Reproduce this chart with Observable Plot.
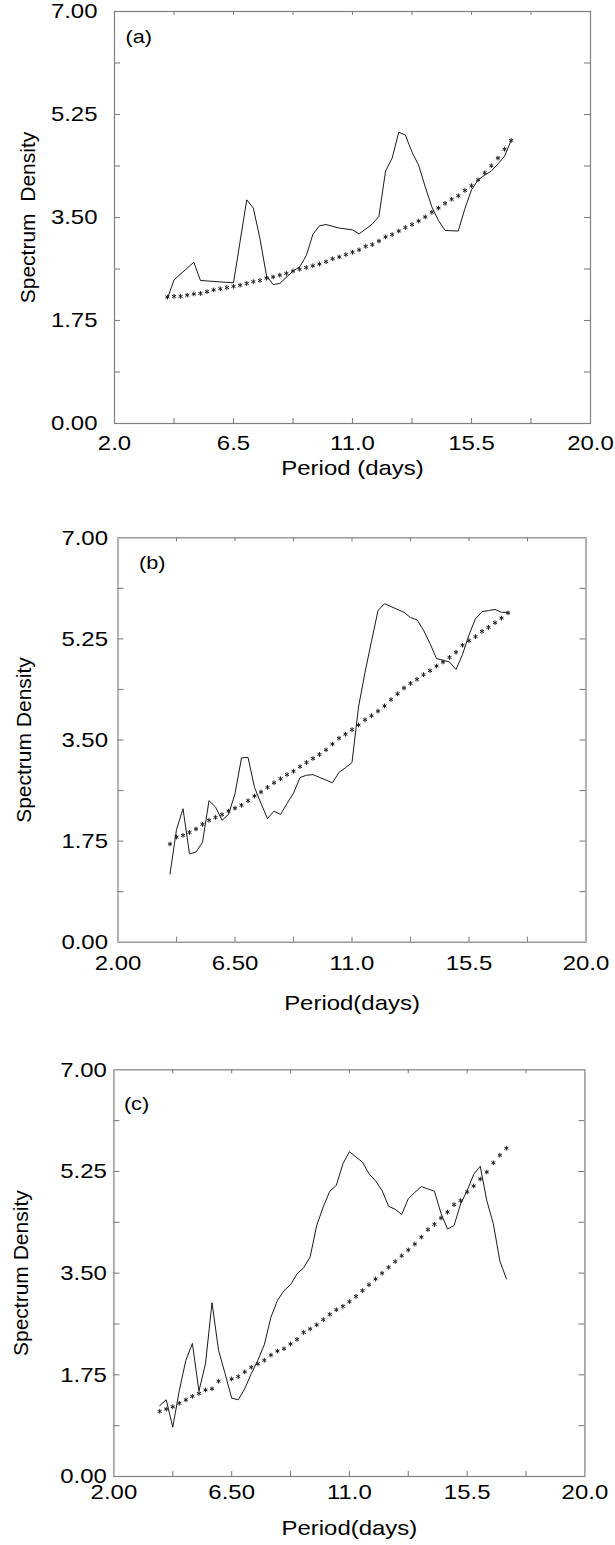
<!DOCTYPE html>
<html>
<head>
<meta charset="utf-8">
<script src="https://cdn.jsdelivr.net/npm/d3@7"></script>
<script src="https://cdn.jsdelivr.net/npm/@observablehq/plot@0.6"></script>
<style>
  html, body { margin: 0; padding: 0; background: #fff; }
  #root { position: relative; width: 615px; height: 1545px; background: #fff; overflow: hidden; }
  .panel { position: absolute; left: 0; }
</style>
</head>
<body>
<div id="root"></div>
<script>
// ---------- shared axis data ----------
const xTickLabelValues = [2, 6.5, 11, 15.5, 20];
const xTickLabelsA = ["2.0", "6.5", "11.0", "15.5", "20.0"];
const xTickLabelsBC = ["2.00", "6.50", "11.0", "15.5", "20.0"];
const yTickLabelValues = [0, 1.75, 3.5, 5.25, 7];
const yTickLabels = ["0.00", "1.75", "3.50", "5.25", "7.00"];
const xMinorTicks = [4.25, 6.5, 8.75, 11, 13.25, 15.5, 17.75];
const yMinorTicks = [0.875, 1.75, 2.625, 3.5, 4.375, 5.25, 6.125];

// ---------- panel (a) ----------
const bgPeriodA = [4.00,4.25,4.50,4.75,5.00,5.25,5.50,5.75,6.00,6.25,6.50,6.75,7.00,7.25,7.50,7.75,8.00,8.25,8.50,8.75,9.00,9.25,9.50,9.75,10.00,10.25,10.50,10.75,11.00,11.25,11.50,11.75,12.00,12.25,12.50,12.75,13.00,13.25,13.50,13.75,14.00,14.25,14.50,14.75,15.00,15.25,15.50,15.75,16.00,16.25,16.50,16.75,17.00];
const bgDensityA = [2.15,2.16,2.16,2.18,2.20,2.21,2.24,2.27,2.29,2.31,2.33,2.35,2.38,2.41,2.43,2.47,2.49,2.52,2.55,2.59,2.62,2.65,2.68,2.71,2.75,2.80,2.83,2.87,2.91,2.95,3.01,3.04,3.10,3.17,3.21,3.27,3.33,3.38,3.44,3.51,3.59,3.66,3.74,3.81,3.87,3.96,4.04,4.14,4.26,4.38,4.51,4.66,4.81];
const periodA = [4.0,4.25,5.0,5.25,6.5,7.0,7.25,7.5,7.75,8.0,8.25,8.75,9.0,9.25,9.5,9.75,10.0,10.5,11.0,11.25,11.75,12.0,12.25,12.5,12.75,13.0,13.25,13.5,13.75,14.0,14.25,14.5,15.0,15.25,15.5,15.75,16.0,16.25,16.5,16.75,17.0];
const densityA = [2.12,2.44,2.74,2.43,2.39,3.80,3.66,3.14,2.51,2.36,2.38,2.59,2.66,2.85,3.21,3.36,3.38,3.32,3.29,3.22,3.39,3.52,4.29,4.51,4.95,4.90,4.61,4.39,4.02,3.68,3.45,3.28,3.27,3.65,3.97,4.14,4.22,4.29,4.41,4.54,4.81];

// ---------- panel (b) ----------
const bgPeriodB = [4.00,4.25,4.50,4.75,5.00,5.25,5.50,5.75,6.00,6.25,6.50,6.75,7.00,7.25,7.50,7.75,8.00,8.25,8.50,8.75,9.00,9.25,9.50,9.75,10.00,10.25,10.50,10.75,11.00,11.25,11.50,11.75,12.00,12.25,12.50,12.75,13.00,13.25,13.50,13.75,14.00,14.25,14.50,14.75,15.00,15.25,15.50,15.75,16.00,16.25,16.50,16.75,17.00];
const bgDensityB = [1.70,1.82,1.85,1.90,1.96,2.04,2.11,2.16,2.21,2.27,2.32,2.37,2.45,2.53,2.60,2.68,2.76,2.83,2.90,2.96,3.04,3.11,3.18,3.25,3.33,3.43,3.53,3.60,3.68,3.76,3.85,3.92,4.00,4.09,4.20,4.30,4.40,4.48,4.55,4.63,4.70,4.78,4.85,4.93,5.02,5.14,5.22,5.29,5.38,5.45,5.53,5.61,5.70];
const periodB = [4.0,4.25,4.5,4.75,5.0,5.25,5.5,5.75,6.0,6.25,6.5,6.75,7.0,7.25,7.5,7.75,8.0,8.25,8.5,8.75,9.0,9.25,9.5,10.25,10.5,10.75,11.0,11.25,11.5,11.75,12.0,12.25,13.0,13.25,13.5,13.75,14.0,14.25,14.5,14.75,15.0,15.25,15.5,15.75,16.0,16.25,16.5,16.75,17.0];
const densityB = [1.18,1.95,2.31,1.53,1.56,1.73,2.45,2.34,2.11,2.21,2.57,3.19,3.20,2.68,2.40,2.14,2.27,2.21,2.40,2.58,2.85,2.89,2.90,2.76,2.94,3.02,3.11,4.07,4.67,5.21,5.74,5.86,5.71,5.62,5.58,5.40,5.17,4.91,4.88,4.85,4.72,4.98,5.32,5.60,5.72,5.74,5.76,5.71,5.71];

// ---------- panel (c) ----------
const bgPeriodC = [3.75,4.00,4.25,4.50,4.75,5.00,5.25,5.50,5.75,6.00,6.50,6.75,7.00,7.25,7.50,7.75,8.00,8.25,8.50,8.75,9.00,9.25,9.50,9.75,10.00,10.25,10.50,10.75,11.00,11.25,11.50,11.75,12.00,12.25,12.50,12.75,13.00,13.25,13.50,13.75,14.00,14.25,14.50,14.75,15.00,15.25,15.50,15.75,16.00,16.25,16.50,16.75,17.00];
const bgDensityC = [1.12,1.16,1.20,1.26,1.32,1.38,1.43,1.49,1.51,1.64,1.68,1.72,1.80,1.88,1.94,2.00,2.09,2.16,2.20,2.28,2.36,2.48,2.54,2.61,2.70,2.79,2.87,2.93,3.01,3.10,3.20,3.30,3.40,3.50,3.60,3.70,3.80,3.90,4.00,4.12,4.25,4.34,4.45,4.55,4.68,4.75,4.90,5.00,5.12,5.24,5.40,5.53,5.65];
const periodC = [3.75,4.0,4.25,4.5,4.75,5.0,5.25,5.5,5.75,6.0,6.25,6.5,6.75,7.0,7.25,7.5,7.75,8.0,8.25,8.5,8.75,9.0,9.25,9.5,9.75,10.0,10.25,10.5,10.75,11.0,11.25,11.5,11.75,12.0,12.25,12.5,12.75,13.0,13.25,13.5,13.75,14.0,14.25,14.5,14.75,15.0,15.25,15.5,15.75,16.0,16.25,16.5,16.75,17.0];
const densityC = [1.22,1.32,0.85,1.48,2.00,2.29,1.47,1.94,2.99,2.17,1.77,1.35,1.32,1.51,1.77,2.00,2.27,2.74,3.03,3.20,3.30,3.49,3.59,3.78,4.32,4.64,4.91,5.01,5.38,5.59,5.50,5.41,5.21,5.09,4.92,4.65,4.60,4.51,4.78,4.89,4.99,4.95,4.91,4.53,4.26,4.32,4.69,4.92,5.20,5.34,4.75,4.35,3.71,3.40];

const panels = [
  {tag: "(a)", top: 0, height: 500, mt: 11, mb: 77, ml: 114, mr: 25,
   xLabels: xTickLabelsA, xLabel: "Period (days)", yLabel: "Spectrum\u00a0 Density",
   yGap: 17, xDy: 20, xLabelDy: 45, yLabelX: 28, tagDx: 11, tagDy: 25,
   bgX: bgPeriodA, bgY: bgDensityA, lx: periodA, ly: densityA},
  {tag: "(b)", top: 500, height: 520, mt: 37.3, mb: 78.3, ml: 117.5, mr: 29.5,
   xLabels: xTickLabelsBC, xLabel: "Period(days)", yLabel: "Spectrum Density",
   yGap: 10, xDy: 21, xLabelDy: 61, yLabelX: 24, tagDx: 21, tagDy: 25,
   bgX: bgPeriodB, bgY: bgDensityB, lx: periodB, ly: densityB},
  {tag: "(c)", top: 1020, height: 525, mt: 49.3, mb: 69, ml: 113.4, mr: 30.6,
   xLabels: xTickLabelsBC, xLabel: "Period(days)", yLabel: "Spectrum Density",
   yGap: 7, xDy: 16, xLabelDy: 52, yLabelX: 21, tagDx: 10, tagDy: 34,
   bgX: bgPeriodC, bgY: bgDensityC, lx: periodC, ly: densityC}
];

const root = document.getElementById("root");
const frameColor = "#808080";

for (const p of panels) {
  const W = 615 - p.ml - p.mr;
  const H = p.height - p.mt - p.mb;
  const bg = p.bgX.map((x, i) => ({x, y: p.bgY[i]}));
  const ln = p.lx.map((x, i) => ({x, y: p.ly[i]}));
  const chart = Plot.plot({
    width: 615,
    height: p.height,
    marginTop: p.mt, marginBottom: p.mb, marginLeft: p.ml, marginRight: p.mr,
    x: {domain: [2, 20], axis: null},
    y: {domain: [0, 7], axis: null},
    style: {fontFamily: "'Liberation Sans', Arial, Helvetica, sans-serif", fontSize: "21px", color: "#000", background: "transparent", overflow: "visible"},
    marks: [
      Plot.frame({stroke: frameColor, strokeWidth: 1.2}),
      // inward ticks: bottom, top, left, right
      Plot.tickX(xMinorTicks, {x: d => d, insetTop: H - 5, stroke: frameColor, strokeWidth: 1.1}),
      Plot.tickX(xMinorTicks, {x: d => d, insetBottom: H - 4, stroke: frameColor, strokeWidth: 1.1}),
      Plot.tickY(yMinorTicks, {y: d => d, insetRight: W - 6, stroke: frameColor, strokeWidth: 1.1}),
      Plot.tickY(yMinorTicks, {y: d => d, insetLeft: W - 6, stroke: frameColor, strokeWidth: 1.1}),
      // tick labels
      Plot.text(xTickLabelValues, {x: d => d, text: (d, i) => p.xLabels[i], frameAnchor: "bottom", dy: p.xDy, lineAnchor: "middle", textAnchor: "middle", fontSize: 21}),
      Plot.text(yTickLabelValues, {y: d => d, text: (d, i) => yTickLabels[i], frameAnchor: "left", dx: -p.yGap, lineAnchor: "middle", textAnchor: "end", fontSize: 21}),
      // axis titles
      Plot.text([p.xLabel], {frameAnchor: "bottom", dy: p.xLabelDy, lineAnchor: "middle", textAnchor: "middle", fontSize: 21}),
      Plot.text([p.yLabel], {frameAnchor: "left", dx: -(p.ml - p.yLabelX), rotate: -90, lineAnchor: "middle", textAnchor: "middle", fontSize: 21}),
      // panel tag
      Plot.text([p.tag], {frameAnchor: "top-left", dx: p.tagDx, dy: p.tagDy, lineAnchor: "middle", textAnchor: "start", fontSize: 19}),
      // data
      Plot.line(ln, {x: "x", y: "y", stroke: "#1a1a1a", strokeWidth: 1}),
      Plot.dot(bg, {x: "x", y: "y", symbol: "asterisk", r: 2.2, stroke: "#222", strokeWidth: 1})
    ]
  });
  const div = document.createElement("div");
  div.className = "panel";
  div.style.top = p.top + "px";
  div.appendChild(chart);
  root.appendChild(div);

  // the reference's horizontal lettering is slightly wide; stretch horizontal labels
  chart.querySelectorAll("text").forEach(t => {
    const tr = t.getAttribute("transform") || "";
    if (tr.includes("rotate")) return;
    const len = t.getComputedTextLength();
    if (len > 0) {
      t.setAttribute("textLength", (len * 1.14).toFixed(2));
      t.setAttribute("lengthAdjust", "spacingAndGlyphs");
    }
  });
}
</script>
</body>
</html>
